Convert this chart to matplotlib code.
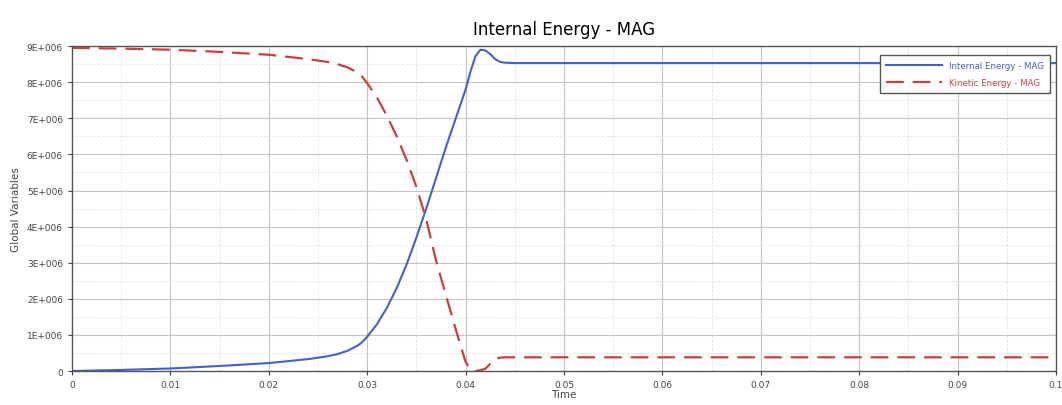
import matplotlib.pyplot as plt
from matplotlib.ticker import MultipleLocator, FuncFormatter

# Data (values in units of 1E6)
time = [0, 0.005, 0.01, 0.015, 0.02, 0.024, 0.026, 0.027, 0.028, 0.029,
        0.0295, 0.030, 0.031, 0.032, 0.033, 0.034, 0.035, 0.036, 0.037, 0.038,
        0.039, 0.040, 0.0405, 0.041, 0.0415, 0.042, 0.0425, 0.043, 0.0435, 0.044,
        0.045, 0.05, 0.06, 0.07, 0.08, 0.09, 0.1]
internal = [0, 0.03, 0.07, 0.14, 0.22, 0.33, 0.41, 0.47, 0.56, 0.7,
            0.8, 0.95, 1.3, 1.75, 2.3, 2.95, 3.7, 4.5, 5.35, 6.2,
            7.0, 7.8, 8.3, 8.72, 8.9, 8.88, 8.78, 8.64, 8.56, 8.54,
            8.53, 8.53, 8.53, 8.53, 8.53, 8.53, 8.53]
kinetic = [8.95, 8.93, 8.9, 8.84, 8.76, 8.64, 8.56, 8.5, 8.41, 8.27,
           8.15, 7.97, 7.57, 7.07, 6.5, 5.85, 5.1, 4.2, 3.05, 2.1,
           1.15, 0.25, 0.05, 0.0, 0.02, 0.06, 0.2, 0.33, 0.37, 0.38,
           0.38, 0.38, 0.38, 0.38, 0.38, 0.38, 0.38]

fig = plt.figure(figsize=(10.62, 4.06), dpi=100)
ax = fig.add_axes([0.0678, 0.0837, 0.9266, 0.8003])

ax.plot(time, [v * 1e6 for v in internal], color='#4262c4', lw=1.5,
        label='Internal Energy - MAG')
ax.plot(time, [v * 1e6 for v in kinetic], color='#c84040', lw=1.6,
        dashes=(8, 4), label='Kinetic Energy - MAG')

ax.set_xlim(0, 0.1)
ax.set_ylim(0, 9e6)
ax.xaxis.set_major_locator(MultipleLocator(0.01))
ax.xaxis.set_minor_locator(MultipleLocator(0.005))
ax.yaxis.set_major_locator(MultipleLocator(1e6))
ax.yaxis.set_minor_locator(MultipleLocator(0.5e6))
ax.xaxis.set_major_formatter(FuncFormatter(lambda v, p: '0' if v == 0 else ('0.1' if abs(v - 0.1) < 1e-9 else f'{v:.2f}')))
ax.yaxis.set_major_formatter(FuncFormatter(lambda v, p: '0' if v == 0 else f'{int(round(v / 1e6))}E+006'))

ax.grid(which='major', color='#c4c4c4', lw=0.8)
ax.grid(which='minor', color='#e2e2e2', lw=0.6, ls=(0, (3, 2)))
ax.tick_params(which='major', labelsize=6.5, colors='#444444', length=3, width=0.8)
ax.tick_params(which='minor', length=0)
for s in ax.spines.values():
    s.set_color('#555555')
    s.set_linewidth(1.0)

ax.set_title('Internal Energy - MAG', fontsize=12, pad=9)
ax.set_xlabel('Time', fontsize=7.5, labelpad=0, color='#444444')
ax.set_ylabel('Global Variables', fontsize=7.5, labelpad=4, color='#444444')

leg = ax.legend(loc='upper right', fontsize=6.2, fancybox=False, framealpha=1,
                edgecolor='#555555', borderpad=0.7, handlelength=6.5,
                bbox_to_anchor=(0.998, 0.985), labelspacing=0.9)
leg.get_frame().set_linewidth(1.0)
leg.get_texts()[0].set_color('#4262c4')
leg.get_texts()[1].set_color('#c84040')

fig.savefig('out.png', dpi=100)
